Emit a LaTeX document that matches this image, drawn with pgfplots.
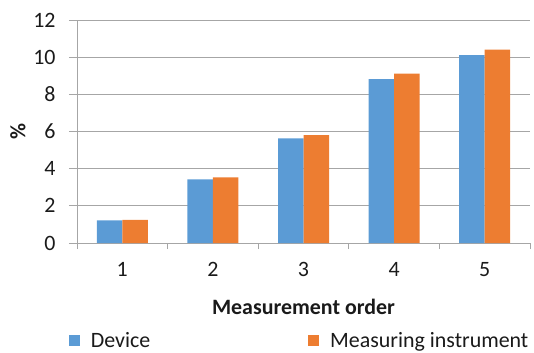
\documentclass[border=0pt]{standalone}
\usepackage{pgfplots}
\pgfplotsset{compat=1.18}
\usepackage{fontspec}
\setmainfont{Carlito}
\definecolor{devblue}{HTML}{5B9BD5}
\definecolor{insorange}{HTML}{ED7D31}
\definecolor{gridgray}{HTML}{A6A6A6}
\definecolor{txt}{HTML}{1A1A1A}
\begin{document}
\begin{tikzpicture}
\path[use as bounding box] (-77bp,-110bp) rectangle (457bp,243bp);
\begin{axis}[
  at={(0,0)}, anchor=south west,
  scale only axis,
  width=453bp, height=223bp,
  xmin=0.5, xmax=5.5,
  ymin=0, ymax=12,
  ytick={0,2,...,12},
  xtick={1,2,3,4,5},
  minor xtick={0.5,1.5,...,5.5},
  major x tick style={draw=none},
  minor x tick style={gridgray, line width=0.8bp},
  minor tick length=6bp,
  major tick length=8bp,
  tick align=outside,
  axis x line*=bottom, axis y line*=left,
  axis line style={gridgray, line width=0.8bp},
  ymajorgrids, grid style={gridgray, line width=0.9bp},
  y tick style={gridgray, line width=0.9bp},
  ybar=0pt, bar width=25.5bp,
  font=\fontsize{22}{26}\selectfont,
  tick label style={font=\fontsize{22}{26}\selectfont, text=txt},
  /pgf/number format/assume math mode=true,
  yticklabel style={xshift=-10bp},
  xticklabel style={yshift=-8bp},
  ylabel={\textbf{\%}},
  ylabel style={at={(axis description cs:0,0.5)}, yshift=59bp, anchor=center, text=txt},
  xlabel={\textbf{Measurement order}},
  xlabel style={at={(axis description cs:0.5,0)}, yshift=-64bp, anchor=center, text=txt},
  legend columns=2,
  legend style={draw=none, at={(axis description cs:-0.025,-0.437)}, anchor=west,
    font=\fontsize{22}{26}\selectfont, text=txt,
    /tikz/every odd column/.append style={column sep=9bp},
    /tikz/every even column/.append style={column sep=156bp}},
  legend image code/.code={\fill[#1, draw=none] (0bp,-5.5bp) rectangle (11bp,5.5bp);},
  every axis plot/.append style={draw=none},
]
\addplot[fill=devblue] coordinates {(1,1.22) (2,3.42) (3,5.63) (4,8.82) (5,10.11)};
\addplot[fill=insorange] coordinates {(1,1.25) (2,3.53) (3,5.81) (4,9.12) (5,10.41)};
\legend{Device, Measuring instrument}
\end{axis}
\end{tikzpicture}
\end{document}
